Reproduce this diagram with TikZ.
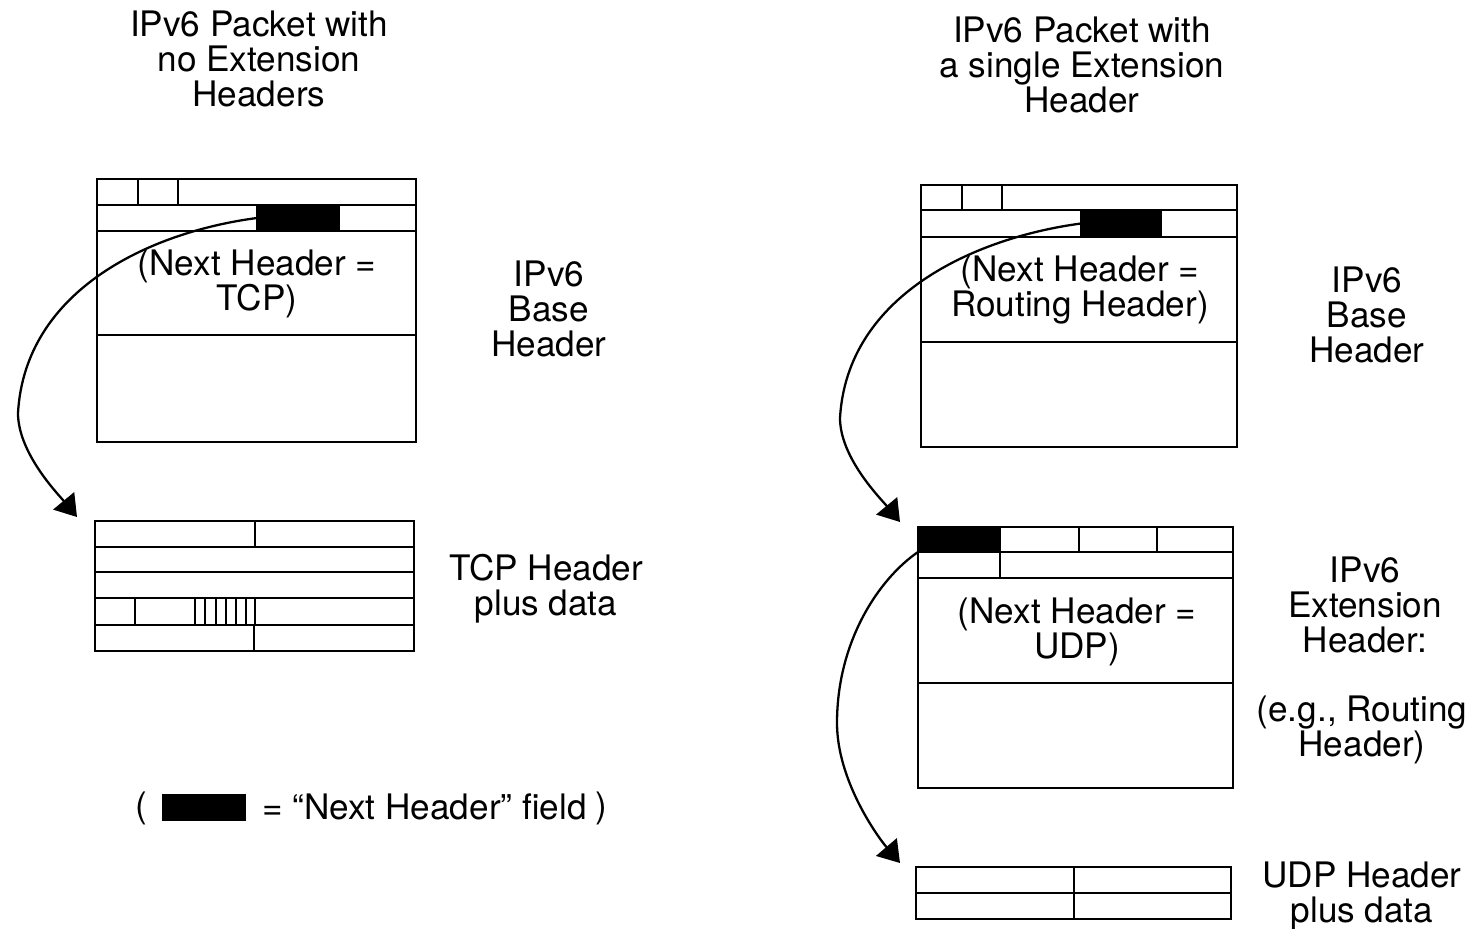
\documentclass[tikz,border=0pt]{standalone}
\usepackage{fontspec}
\setmainfont{TeX Gyre Heros}
\usetikzlibrary{arrows.meta}
\begin{document}
\begin{tikzpicture}[x=0.02cm,y=-0.02cm,
  box/.style={draw, line width=1.6pt, inner sep=0pt, outer sep=0pt, anchor=north west},
  ln/.style={line width=1.4pt},
  field/.style={fill=black, draw=black, line width=0.6pt, inner sep=0pt, outer sep=0pt, anchor=north west},
  lbl/.style={font=\fontsize{20}{20}\selectfont, align=center, inner sep=0pt},
  arr/.style={line width=1.3pt, -{Triangle[length=0.42cm,width=0.54cm]}}
]
\useasboundingbox (0,0) rectangle (1473,929);

% ---------- titles ----------
\node[lbl] (title1) at (259,59) {IPv6 Packet with\\no Extension\\Headers};
\node[lbl] (title2) at (1082,65) {IPv6 Packet with\\a single Extension\\Header};

% ---------- left IPv6 base header ----------
\node[box, minimum width=6.38cm, minimum height=5.26cm] (base1) at (97,179) {};
\draw[ln] (97,205) -- (416,205);
\draw[ln] (97,231) -- (416,231);
\draw[ln] (97,335) -- (416,335);
\draw[ln] (138,179) -- (138,205);
\draw[ln] (178,179) -- (178,205);
\node[field, minimum width=1.64cm, minimum height=0.52cm] (nh1) at (257,205) {};
\node[lbl] (nt1) at (257,284) {(Next Header =\\TCP)};
\node[lbl] (bl1) at (549,309) {IPv6\\Base\\Header};

% ---------- TCP header ----------
\node[box, minimum width=6.38cm, minimum height=2.6cm] (tcp) at (95,521) {};
\draw[ln] (95,547) -- (414,547);
\draw[ln] (95,572) -- (414,572);
\draw[ln] (95,598) -- (414,598);
\draw[ln] (95,625) -- (414,625);
\draw[ln] (255,521) -- (255,547);
\foreach \xx in {135,195,205,216,226,236,246,255}
  \draw[line width=1.1pt] (\xx,598) -- (\xx,625);
\draw[ln] (254,625) -- (254,651);
\node[lbl] (tl) at (546,589) {TCP Header\\plus data};

% ---------- legend ----------
\node[lbl] (lp1) at (141,808) {(};
\node[field, minimum width=1.64cm, minimum height=0.5cm] (legf) at (163,795) {};
\node[lbl, anchor=west] (legt) at (262,807) {= “Next Header” field};
\node[lbl] (lp2) at (601,808) {)};

% ---------- right IPv6 base header ----------
\node[box, minimum width=6.32cm, minimum height=5.24cm] (base2) at (921,185) {};
\draw[ln] (921,210) -- (1237,210);
\draw[ln] (921,237) -- (1237,237);
\draw[ln] (921,342) -- (1237,342);
\draw[ln] (962,185) -- (962,210);
\draw[ln] (1002,185) -- (1002,210);
\node[field, minimum width=1.6cm, minimum height=0.54cm] (nh2) at (1081,210) {};
\node[lbl] (nt2) at (1080,290) {(Next Header =\\Routing Header)};
\node[lbl] (bl2) at (1367,315) {IPv6\\Base\\Header};

% ---------- extension header ----------
\node[box, minimum width=6.3cm, minimum height=5.22cm] (ext) at (918,527) {};
\draw[ln] (918,552) -- (1233,552);
\draw[ln] (918,578) -- (1233,578);
\draw[ln] (918,683) -- (1233,683);
\draw[ln] (1000,527) -- (1000,578);
\draw[ln] (1079,527) -- (1079,552);
\draw[ln] (1157,527) -- (1157,552);
\node[field, minimum width=1.64cm, minimum height=0.5cm] (nh3) at (918,527) {};
\node[lbl] (nt3) at (1077,632) {(Next Header =\\UDP)};
\node[lbl] (el) at (1365,605) {IPv6\\Extension\\Header:};
\node[lbl] (eg) at (1362,730) {(e.g., Routing\\Header)};

% ---------- UDP header ----------
\node[box, minimum width=6.3cm, minimum height=1.04cm] (udp) at (916,867) {};
\draw[ln] (916,893) -- (1231,893);
\draw[ln] (1074,867) -- (1074,919);
\node[lbl] (ul) at (1362,896) {UDP Header\\plus data};

% ---------- connectors ----------
\coordinate (t1) at (77,517);
\coordinate (t2) at (900,522);
\coordinate (t3) at (900,863);
\draw[arr] (nh1.west) .. controls (150,232) and (25,290) .. (18,413)
                     .. controls (18,453) and (58,494) .. (t1);
\draw[arr] (nh2.west) .. controls (973,238) and (847,296) .. (840,418)
                     .. controls (840,458) and (881,499) .. (t2);
\draw[arr] (nh3.south west) .. controls (880,578) and (837,640) .. (837,723)
                     .. controls (837,780) and (877,836) .. (t3);
\end{tikzpicture}
\end{document}
